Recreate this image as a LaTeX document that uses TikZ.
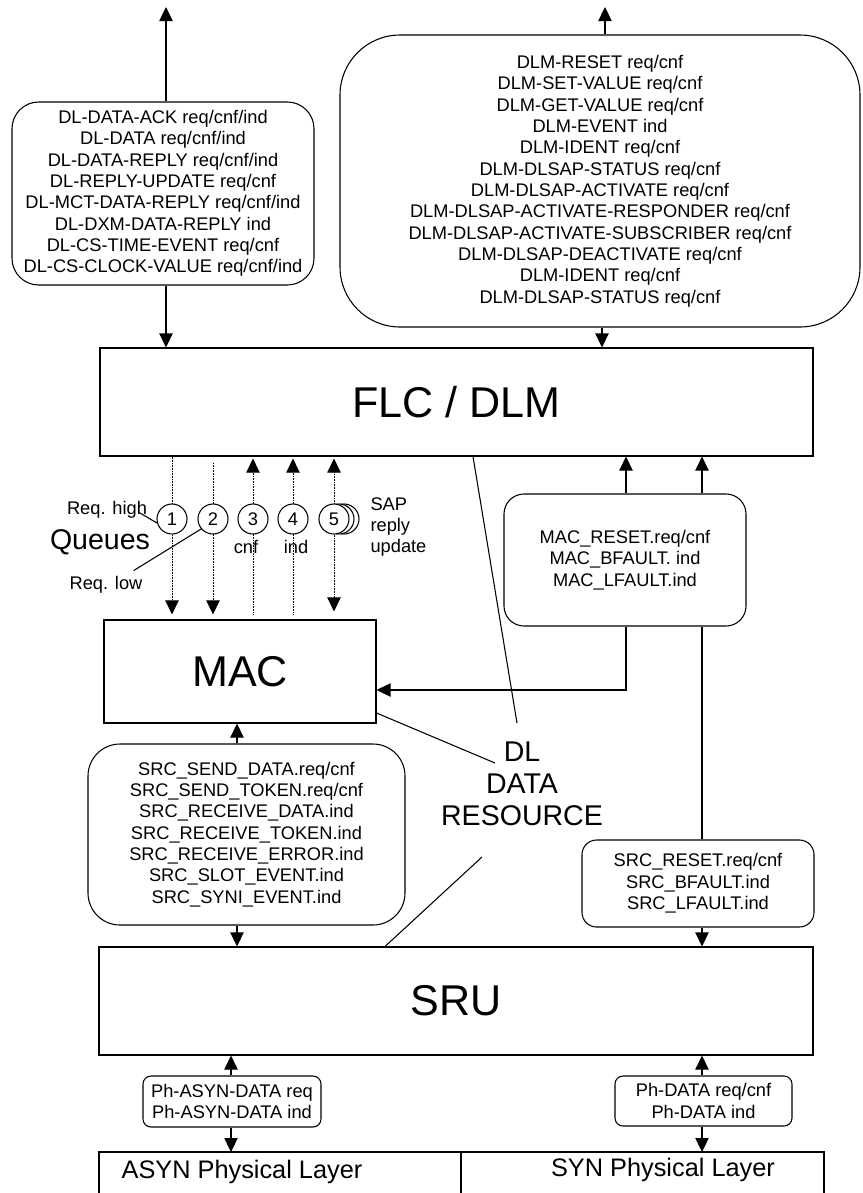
\documentclass[tikz,border=0pt]{standalone}
\usepackage{fontspec}
\setmainfont{Liberation Sans}
\usetikzlibrary{arrows.meta,positioning}

\begin{document}
\begin{tikzpicture}[
    x=0.75pt, y=-0.75pt,
    >={Triangle[length=10.5pt, width=10pt]},
    line width=0.8pt,
    every node/.style={align=center, inner sep=0pt},
    layer/.style={rectangle, draw, font=\fontsize{32.3}{38}\selectfont},
    prim/.style={rectangle, draw, font=\fontsize{13.7}{16}\selectfont},
    lbl/.style={font=\fontsize{13.7}{16}\selectfont},
    biglbl/.style={font=\fontsize{21.4}{24}\selectfont},
    phys/.style={font=\fontsize{19}{22}\selectfont},
    queue/.style={circle, draw, fill=white, minimum size=22.5pt, font=\fontsize{13.7}{16}\selectfont},
    arrow/.style={->},
    qline/.style={->, line width=0.6pt, dash pattern=on 0.6pt off 0.6pt}
]
    \useasboundingbox (0,0) rectangle (863,1193);

    % Layers
    \node (flc) [layer, minimum width=534.75pt, minimum height=81pt] at (456.5,402) {FLC / DLM};
    \node (mac) [layer, minimum width=204pt, minimum height=77.25pt] at (240,671.5) {MAC};
    \node (sru) [layer, minimum width=535.5pt, minimum height=81pt] at (456,1001) {SRU};

    % Service primitives
    \node (dlsrv) [prim, rounded corners=20pt, minimum width=226.5pt, minimum height=137.25pt] at (163,193.5) {DL-DATA-ACK req/cnf/ind \\
    DL-DATA req/cnf/ind \\
    DL-DATA-REPLY req/cnf/ind \\
    DL-REPLY-UPDATE req/cnf \\
    DL-MCT-DATA-REPLY req/cnf/ind \\
    DL-DXM-DATA-REPLY ind \\
    DL-CS-TIME-EVENT req/cnf \\
    DL-CS-CLOCK-VALUE req/cnf/ind};

    \node (dlmsrv) [prim, rounded corners=45pt, minimum width=390pt, minimum height=219pt] at (600,181) {DLM-RESET req/cnf \\
    DLM-SET-VALUE req/cnf \\
    DLM-GET-VALUE req/cnf \\
    DLM-EVENT ind \\
    DLM-IDENT req/cnf \\
    DLM-DLSAP-STATUS req/cnf \\
    DLM-DLSAP-ACTIVATE req/cnf \\
    DLM-DLSAP-ACTIVATE-RESPONDER req/cnf \\
    DLM-DLSAP-ACTIVATE-SUBSCRIBER req/cnf \\
    DLM-DLSAP-DEACTIVATE req/cnf \\
    DLM-IDENT req/cnf \\
    DLM-DLSAP-STATUS req/cnf};

    \node (macsrv) [prim, rounded corners=15pt, minimum width=181.5pt, minimum height=99pt] at (625,560) {MAC\_RESET.req/cnf \\
    MAC\_BFAULT. ind \\
    MAC\_LFAULT.ind};

    \node (srcsrv) [prim, rounded corners=24pt, minimum width=237.75pt, minimum height=135.75pt] at (246.5,834.5) {SRC\_SEND\_DATA.req/cnf \\
    SRC\_SEND\_TOKEN.req/cnf \\
    SRC\_RECEIVE\_DATA.ind \\
    SRC\_RECEIVE\_TOKEN.ind \\
    SRC\_RECEIVE\_ERROR.ind \\
    SRC\_SLOT\_EVENT.ind \\
    SRC\_SYNI\_EVENT.ind};

    \node (srcmsrv) [prim, rounded corners=11pt, minimum width=174pt, minimum height=65.25pt] at (698,883.5) {SRC\_RESET.req/cnf \\
    SRC\_BFAULT.ind \\
    SRC\_LFAULT.ind};

    \node (phasyn) [prim, rounded corners=6pt, minimum width=133.5pt, minimum height=38.25pt] at (232,1101.5) {Ph-ASYN-DATA req \\ Ph-ASYN-DATA ind};
    \node (phsyn) [prim, rounded corners=6pt, minimum width=132.75pt, minimum height=37.5pt] at (703.5,1101) {Ph-DATA req/cnf \\ Ph-DATA ind};

    % Physical layers
    \coordinate (phys) at (0,1152);
    \draw (99,1193) -- (99,1152) -- (824,1152) -- (824,1193);
    \draw (461,1152) -- (461,1193);
    \node (asyn) [phys] at (242,1172) {ASYN Physical Layer};
    \node (syn) [phys] at (663,1170) {SYN Physical Layer};

    % Upper interface arrows
    \coordinate (outl) at (166,7);
    \coordinate (outr) at (605,7);
    \draw [arrow] (dlsrv.north -| outl) -- (outl);
    \draw [arrow] (dlsrv.south -| outl) -- (flc.north -| outl);
    \draw [arrow] (dlmsrv.north -| outr) -- (outr);
    \draw [arrow] (dlmsrv.south -| 602,0) -- (flc.north -| 602,0);

    % Queues
    \coordinate (c1) at (172,519);
    \coordinate (c2) at (213,519);
    \coordinate (c3) at (253,519);
    \coordinate (c4) at (293,519);
    \coordinate (c5) at (334,519);
    \draw [qline, shorten >=3.75pt] (flc.south -| c1) -- (mac.north -| c1);
    \draw [qline, shorten <=5pt, shorten >=3.75pt] (flc.south -| c2) -- (mac.north -| c2);
    \draw [qline, shorten <=3.75pt, shorten >=1.5pt] (mac.north -| c3) -- (flc.south -| c3);
    \draw [qline, shorten <=3.75pt, shorten >=1.5pt] (mac.north -| c4) -- (flc.south -| c4);
    \draw [qline, <->, shorten <=1.5pt, shorten >=6pt] (flc.south -| c5) -- (mac.north -| c5);

    \node (q1) [queue] at (c1) {1};
    \node (q2) [queue] at (c2) {2};
    \node (q3) [queue] at (c3) {3};
    \node (q4) [queue] at (c4) {4};
    \node (q5c) [queue] at (344,519) {};
    \node (q5b) [queue] at (339,519) {};
    \node (q5) [queue] at (c5) {5};

    \node (cnf) [lbl] at (246,547) {cnf};
    \node (ind) [lbl] at (296,547) {ind};
    \node (sap) [lbl, align=left, anchor=west] at (370,527) {SAP \\ reply \\ update};
    \node (reqhigh) [lbl] at (107,510) {Req. high};
    \node (queues) [biglbl] at (100,542) {Queues};
    \node (reqlow) [lbl] at (106,585) {Req. low};
    \draw ([xshift=-6pt, yshift=-2pt]reqhigh.east) -- (q1.195);
    \draw ([xshift=-7pt, yshift=4pt]reqlow.north east) -- (q2.220);

    % DL data resource
    \node (dlres) [biglbl] at (522,784) {DL \\ DATA \\ RESOURCE};
    \coordinate (ra) at (517,723);
    \coordinate (rb) at (495,763);
    \coordinate (rc) at (482,857);
    \draw (flc.south -| 473,0) -- (ra);
    \draw (mac.east |- 0,713) -- (rb);
    \draw (rc) -- (sru.north -| 385,0);

    % MAC / SRC management
    \coordinate (rl) at (626,0);
    \coordinate (rr) at (702,0);
    \draw [arrow] (macsrv.north -| rl) -- (flc.south -| rl);
    \draw [arrow] (macsrv.north -| rr) -- (flc.south -| rr);
    \draw [arrow] (macsrv.south -| rl) |- (mac.east |- 0,690);
    \draw (macsrv.south -| rr) -- (srcmsrv.north -| rr);
    \draw [arrow] (srcmsrv.south -| rr) -- (sru.north -| rr);
    \draw [arrow] (phsyn.north -| rr) -- (sru.south -| rr);
    \draw [arrow] (phsyn.south -| rr) -- (phys -| rr);

    % SRC data interface
    \coordinate (sl) at (237,0);
    \coordinate (pl) at (231,0);
    \draw [arrow] (srcsrv.north -| sl) -- (mac.south -| sl);
    \draw [arrow] (srcsrv.south -| sl) -- (sru.north -| sl);
    \draw [arrow] (phasyn.north -| pl) -- (sru.south -| pl);
    \draw [arrow] (phasyn.south -| pl) -- (phys -| pl);

\end{tikzpicture}
\end{document}
